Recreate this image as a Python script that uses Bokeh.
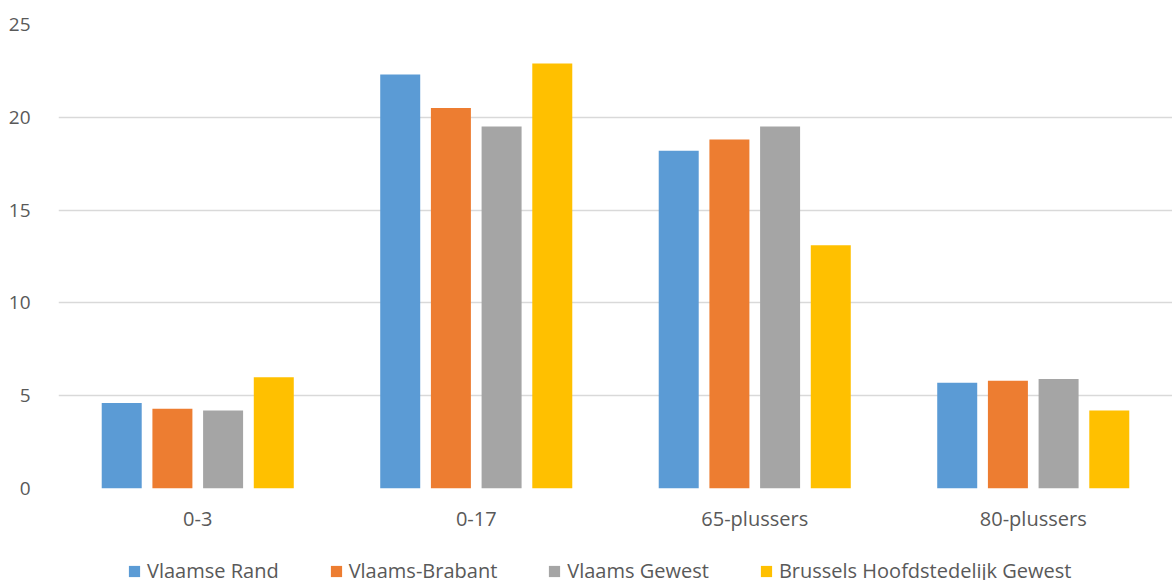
from bokeh.plotting import figure
from bokeh.layouts import column
from bokeh.models import ColumnDataSource, Legend, LegendItem, FixedTicker
from bokeh.transform import dodge
from bokeh.embed import file_html
from bokeh.resources import INLINE

categories = ["0-3", "0-17", "65-plussers", "80-plussers"]
series_names = ["Vlaamse Rand", "Vlaams-Brabant", "Vlaams Gewest", "Brussels Hoofdstedelijk Gewest"]
vlaamse_rand = [4.6, 22.3, 18.2, 5.7]
vlaams_brabant = [4.3, 20.5, 18.8, 5.8]
vlaams_gewest = [4.2, 19.5, 19.5, 5.9]
brussels = [6.0, 22.9, 13.1, 4.2]
colors = ["#5B9BD5", "#ED7D31", "#A5A5A5", "#FFC000"]
y_ticks = [0, 5, 10, 15, 20, 25]

FONT = "Open Sans"
TXT = "#595959"
FS = "20px"

source = ColumnDataSource(data=dict(cat=categories, s0=vlaamse_rand, s1=vlaams_brabant,
                                    s2=vlaams_gewest, s3=brussels))

p = figure(x_range=categories, y_range=(0, 25), width=1172, height=548,
           output_backend="svg", toolbar_location=None,
           min_border_left=58, min_border_right=0, min_border_top=24, min_border_bottom=60)

pitch = 0.182
offsets = [-1.5 * pitch, -0.5 * pitch, 0.5 * pitch, 1.5 * pitch]
for i, key in enumerate(["s0", "s1", "s2", "s3"]):
    p.vbar(x=dodge("cat", offsets[i], range=p.x_range), top=key, bottom=0,
           width=0.1436, source=source, fill_color=colors[i], line_color=None)

p.outline_line_color = None
p.xgrid.grid_line_color = None
p.ygrid.grid_line_color = "#D9D9D9"
p.ygrid.grid_line_width = 1.5
p.yaxis.ticker = FixedTicker(ticks=y_ticks)
p.yaxis.axis_line_color = None
p.yaxis.major_tick_line_color = None
p.yaxis.minor_tick_line_color = None
p.yaxis.major_label_standoff = 22
p.yaxis.major_label_text_font = FONT
p.yaxis.major_label_text_font_size = "19px"
p.yaxis.major_label_text_color = TXT

p.xaxis.axis_line_color = None
p.xaxis.major_tick_line_color = None
p.xaxis.major_label_standoff = 10
p.xaxis.major_label_text_font = FONT
p.xaxis.major_label_text_font_size = FS
p.xaxis.major_label_text_color = TXT

# legend strip
lg = figure(width=1172, height=32, x_range=(0, 1), y_range=(0, 1),
            output_backend="svg", toolbar_location=None,
            min_border_left=0, min_border_right=0, min_border_top=0, min_border_bottom=0)
lg.axis.visible = False
lg.grid.visible = False
lg.outline_line_color = None
items = []
for i in range(4):
    r = lg.vbar(x=[0.5], top=[0], bottom=[0], width=0.0, fill_color=colors[i], line_color=None)
    items.append(LegendItem(label=series_names[i], renderers=[r]))
legend = Legend(items=items, orientation="horizontal", location=(69, -4),
                label_text_font=FONT, label_text_font_size=FS, label_text_color=TXT,
                glyph_width=14, glyph_height=14, spacing=50, label_standoff=6,
                border_line_color=None, background_fill_alpha=0, padding=0, margin=0)
lg.add_layout(legend, "center")

open("out.html", "w").write(file_html(column(p, lg, spacing=0), INLINE))
